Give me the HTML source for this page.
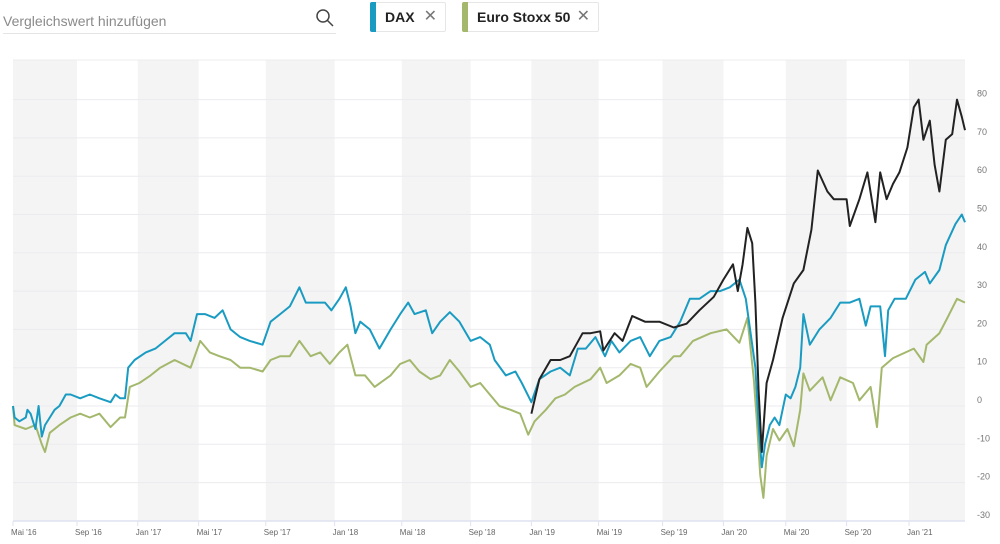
<!DOCTYPE html>
<html><head><meta charset="utf-8">
<style>
body{margin:0;width:1000px;height:544px;background:#fff;overflow:hidden;font-family:"Liberation Sans",sans-serif;position:relative}
.search{position:absolute;left:3px;top:13px;font-size:14px;color:#8a8a8a}
.uline{position:absolute;left:3px;top:33px;width:333px;height:1px;background:#e4e4e4}
.chip{position:absolute;top:2px;height:30px;border:1px solid #e6e6e6;border-radius:2px;box-sizing:border-box;font-weight:bold;font-size:14px;color:#222;line-height:28px;padding-left:14px}
.chip .bar{position:absolute;left:-1px;top:-1px;bottom:-1px;width:6px;border-radius:2px 0 0 2px}
.chip .x{position:absolute;right:8px;top:0;font-weight:normal;color:#777;font-size:16px}
</style></head><body>
<div class="search">Vergleichswert hinzufügen</div>
<div class="uline"></div>
<svg style="position:absolute;left:315px;top:8px" width="20" height="20"><circle cx="8" cy="8" r="6" fill="none" stroke="#444" stroke-width="1.5"/><line x1="12.5" y1="12.5" x2="18" y2="18" stroke="#444" stroke-width="1.5"/></svg>
<div class="chip" style="left:370px;width:76px"><div class="bar" style="background:#1a9bc2"></div>DAX<span class="x">✕</span></div>
<div class="chip" style="left:462px;width:137px"><div class="bar" style="background:#a3b86c"></div>Euro Stoxx 50<span class="x">✕</span></div>
<svg id="chart" width="1000" height="544" style="position:absolute;left:0;top:0"></svg>
<script>
const tickLabels=["Mai '16","Sep '16","Jan '17","Mai '17","Sep '17","Jan '18","Mai '18","Sep '18","Jan '19","Mai '19","Sep '19","Jan '20","Mai '20","Sep '20","Jan '21"];
const tickMonths=[0,4,7.8,11.6,15.8,20.1,24.3,28.6,32.4,36.6,40.6,44.4,48.3,52.1,56];
const yTicks=[-30,-20,-10,0,10,20,30,40,50,60,70,80];
const daxMonths=[0,0.1,0.4,0.8,0.9,1.1,1.4,1.6,1.8,2,2.3,2.6,2.9,3.3,3.6,4.2,4.8,5.4,6.1,6.4,6.7,7,7.2,7.6,8.3,8.9,9.5,10.1,10.8,11.1,11.5,12,12.6,13.1,13.6,14.2,14.8,15.6,16.1,16.7,17.3,17.9,18.3,18.9,19.5,19.9,20.4,20.8,21.1,21.4,21.7,22.3,22.9,23.6,24.2,24.7,25.1,25.8,26.2,26.7,27.3,27.9,28.6,29.2,29.8,30.1,30.8,31.4,31.8,32.4,32.9,33.6,34.2,34.8,35.3,35.8,36.4,37,37.4,37.9,38.6,39.2,39.8,40.4,41.1,41.7,42.3,42.9,43.6,44.2,44.8,45.4,45.8,46.2,46.4,46.6,46.8,47,47.3,47.6,47.9,48.3,48.6,48.9,49.2,49.4,49.8,50.4,51.1,51.7,52.3,52.9,53.3,53.6,54.2,54.5,54.7,55.1,55.8,56.4,57,57.3,57.9,58.3,58.9,59.3,59.5];
const daxValues=[0,-3,-4,-3,-1,-2,-6,0,-8,-5,-3,-1,0,3,3,2,3,2,1,3,2,2,10,12,14,15,17,19,19,17,24,24,23,25,20,18,17,16,22,24,26,31,27,27,27,25,28,31,26,19,22,20,15,20,24,27,24,25,19,22,24.5,22,17,18,16,12,8,9,6,1,7,9,10,8,15,15,18,13,17,14,17,18,13,17,18,22,28,28,30,30,31,33,28,16,10,-5,-16,-10,-5,-3,-5,3,2,5,10,24,16,20,23,27,27,28,21,26,26,13,25,28,28,33,35,32,35.5,42,47.5,50,48];
const stoxxMonths=[0,0.1,0.8,1.4,1.8,2,2.3,2.9,3.6,4.2,4.8,5.4,6.1,6.7,7,7.3,7.9,8.6,9.2,10.1,11.1,11.7,12.3,12.9,13.6,14.2,14.8,15.6,16.1,16.7,17.3,17.9,18.6,19.2,19.8,20.4,20.9,21.4,22,22.6,23.6,24.2,24.8,25.4,26.1,26.7,27.3,27.9,28.6,29.2,29.8,30.4,31.1,31.7,32.2,32.6,33.3,33.9,34.5,35.1,36.1,36.7,37.1,37.9,38.6,39.2,39.6,40.4,41.3,41.7,42.5,43.6,44.6,45.4,45.9,46.3,46.5,46.7,46.9,47.1,47.5,47.9,48.4,48.8,49.2,49.4,49.8,50.6,51.1,51.7,52.5,52.9,53.6,54,54.3,55,56.3,56.9,57.1,57.9,58.4,59,59.5];
const stoxxValues=[0,-5,-6,-5,-10,-12,-7,-5,-3,-2,-3,-2,-5.5,-3,-3,5,6,8,10,12,10,17,14,13,12,10,10,9,12,13,13,17,13,14,11,14,16,8,8,5,8,11,12,9,7,8,12,9,5,6,3,0,-1,-2,-7.5,-4,-1,2,3,5,7,10,6,8,11,10,5,9,13,13,17,19,20,16.5,23,7,-4.5,-18,-24,-13,-6,-9,-6,-10.5,-1,8.5,4,7.5,1.5,7.5,6,1.5,5,-5.5,10,12.5,15,11.5,16,19,23,28,27];
const thirdMonths=[32.4,32.9,33.6,34.2,34.8,35.6,36.1,36.7,36.9,37.6,38.1,38.7,39.5,40.4,41.3,42.1,42.9,43.8,44.4,45,45.3,45.6,45.9,46.2,46.4,46.6,46.8,47.1,47.5,48.1,48.8,49.4,49.9,50.3,50.9,51.3,52.1,52.3,52.9,53.4,53.9,54.2,54.6,55,55.4,55.9,56.3,56.6,56.9,57.3,57.6,57.9,58.3,58.7,59,59.3,59.5];
const thirdValues=[-2,7,12,12,13,19,19,19.5,14.5,19,17,23.5,22,22,20.5,21.5,25,28.5,33,37,30,37,46.5,42.5,27,4,-12,6,12,23,32,35.5,46,61.5,56,54,54,47,54,61,48,61,54,58,61,67.5,78,80,69.5,74.5,63,56,69.5,71,80,75.5,72];

const svg=document.getElementById('chart');
const NS='http://www.w3.org/2000/svg';
const L=13,R=965,T=60,B=521;
const xs=m=>L+m*16;
const ys=v=>406-v*3.83;
function mk(tag,attrs){const e=document.createElementNS(NS,tag);for(const k in attrs)e.setAttribute(k,attrs[k]);svg.appendChild(e);return e;}
for(let i=0;i<tickMonths.length;i+=2){
  const x0=xs(tickMonths[i]);const x1=i+1<tickMonths.length?xs(tickMonths[i+1]):R;
  const b=mk('rect',{x:x0,y:T,width:Math.min(x1,R)-x0,height:B-T,fill:'#f4f4f4'});
  
  
}
mk('line',{x1:L,x2:R,y1:T,y2:T,stroke:'#ececec'});
yTicks.forEach(v=>{
  const g=mk('line',{x1:L,x2:R,y1:ys(v),y2:ys(v),stroke:'#ebebef','stroke-width':1});
  
  
  const t=mk('text',{x:977,y:ys(v)-3,'font-size':9,fill:'#777','font-family':'Liberation Sans, sans-serif'});
  t.textContent=v;
  
  
});
mk('line',{x1:L,x2:R,y1:B,y2:B,stroke:'#dfe2f2','stroke-width':1.5});
tickMonths.forEach((m,i)=>{
  mk('line',{x1:xs(m),x2:xs(m),y1:B,y2:B+5,stroke:'#dfe2f2'});
  const t=mk('text',{x:xs(m)-2,y:535,'font-size':8,fill:'#666','font-family':'Liberation Sans, sans-serif'});
  t.textContent=tickLabels[i];
  
  
});
function line(ms,vs,color,name){
  const n=Math.min(ms.length,vs.length);let d='';
  for(let i=0;i<n;i++)d+=(i?'L':'M')+xs(ms[i]).toFixed(1)+' '+ys(vs[i]).toFixed(1);
  const p=mk('path',{d:d,fill:'none',stroke:color,'stroke-width':2,'stroke-linejoin':'round'});
  
  
}
line(stoxxMonths,stoxxValues,'#a3b86c','euro-stoxx-line');
line(daxMonths,daxValues,'#1a9bc2','dax-line');
line(thirdMonths,thirdValues,'#222222','instrument-line');
</script>
</body></html>
